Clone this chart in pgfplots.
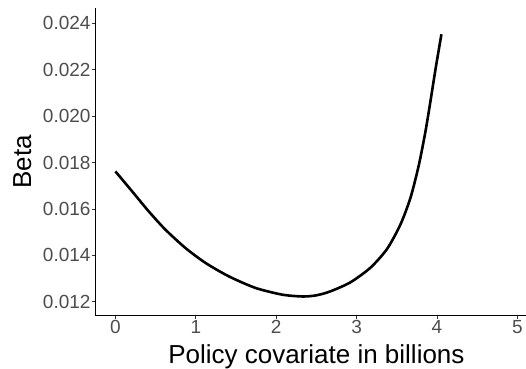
\documentclass[border=0pt]{standalone}
\usepackage{fontspec}
\setmainfont{Liberation Sans}
\usepackage{pgfplots}
\pgfplotsset{compat=1.18}
\definecolor{ticktext}{HTML}{4D4D4D}
\definecolor{tickmark}{HTML}{333333}

\begin{document}
\begin{tikzpicture}
% page area: panel starts at the origin
\useasboundingbox (-95.3pt,-52.5pt) rectangle (430.7pt,315.5pt);
\begin{axis}[
  at={(0pt,0pt)}, anchor=south west,
  scale only axis,
  width=442.2pt, height=307.5pt,
  xmin=-0.25, xmax=5.25,
  ymin=0.01141, ymax=0.02466,
  axis x line*=bottom, axis y line*=left,
  axis line style={black, line width=0.9pt},
  scaled y ticks=false, scaled x ticks=false,
  xtick={0,1,2,3,4,5},
  xticklabels={0,1,2,3,4,5},
  ytick={0.012,0.014,0.016,0.018,0.020,0.022,0.024},
  yticklabels={0.012,0.014,0.016,0.018,0.020,0.022,0.024},
  tick align=outside,
  major tick length=3pt,
  tick style={tickmark, line width=0.9pt},
  ticklabel style={font=\fontsize{19}{19}\selectfont, text=ticktext},
  yticklabel style={inner sep=0pt, xshift=-1.6pt},
  xticklabel style={inner sep=0pt, yshift=-1.5pt},
  xlabel={Policy covariate in billions},
  label style={font=\fontsize{26}{26}\selectfont, text=black},
  xlabel style={at={(axis description cs:0.5,0)}, anchor=base, yshift=-48pt},
  clip=false,
]
\addplot[black, line width=2.6pt, smooth, tension=0.45] coordinates {
  (0.000, 0.01762)
  (0.208, 0.01676)
  (0.414, 0.01590)
  (0.622, 0.01511)
  (0.871, 0.01432)
  (1.119, 0.01368)
  (1.409, 0.01310)
  (1.741, 0.01260)
  (2.073, 0.01231)
  (2.330, 0.01223)
  (2.500, 0.01228)
  (2.674, 0.01245)
  (2.923, 0.01284)
  (3.172, 0.01347)
  (3.379, 0.01428)
  (3.545, 0.01533)
  (3.669, 0.01647)
  (3.772, 0.01786)
  (3.856, 0.01933)
  (3.918, 0.02063)
  (3.980, 0.02199)
  (4.055, 0.02353)
};
\node[font=\fontsize{26}{26}\selectfont, rotate=90, anchor=center]
  at ([xshift=-73pt]axis description cs:0,0.5) {Beta};
\end{axis}
\end{tikzpicture}
\end{document}
